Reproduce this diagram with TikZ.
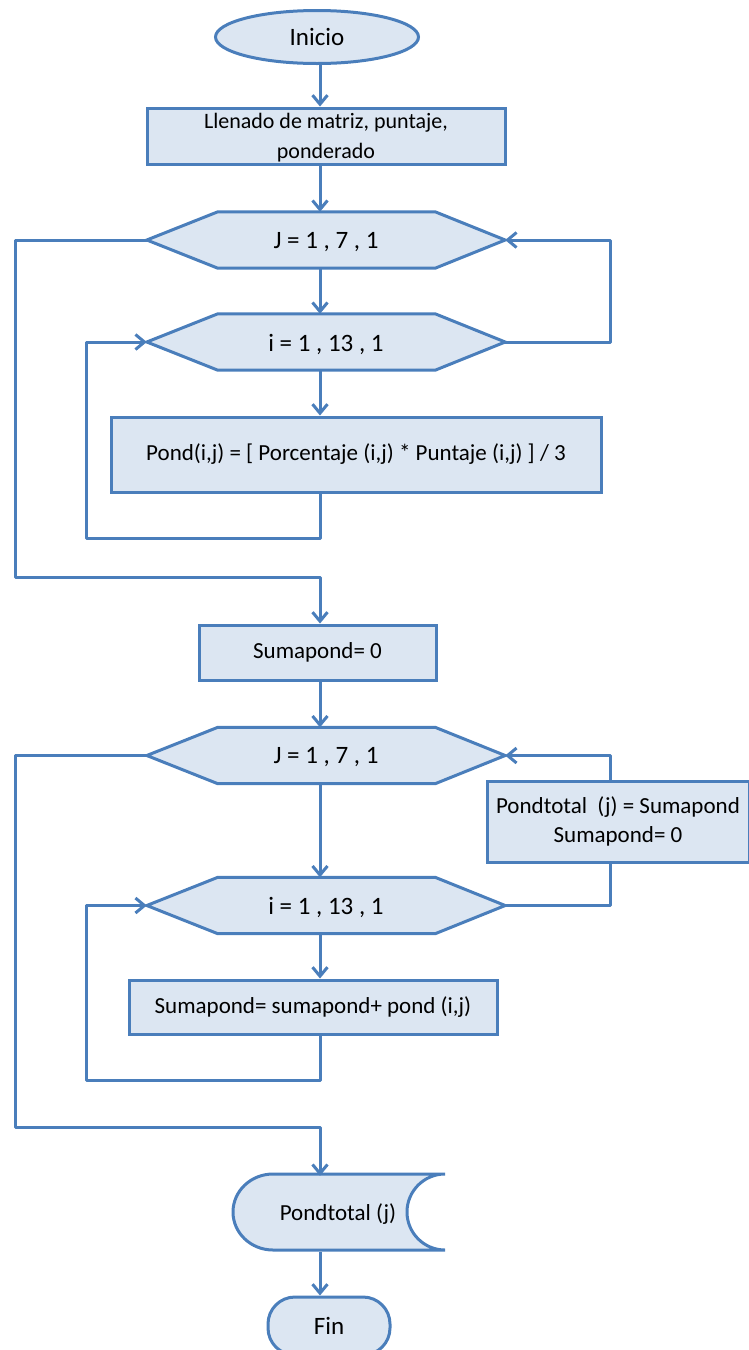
\documentclass[tikz,border=0pt]{standalone}
\usepackage{fontspec}
\setmainfont{Carlito}
\usetikzlibrary{arrows.meta,shapes.geometric}
\definecolor{edge}{HTML}{4A7EBB}
\definecolor{boxfill}{HTML}{DCE6F2}

\tikzset{
  shapeline/.style={draw=edge, line width=3pt, fill=boxfill},
  label/.style={font=\fontsize{23}{29}\selectfont, align=center, inner sep=0pt},
  procbox/.style={shapeline, rectangle, label},
  flow/.style={draw=edge, line width=3pt, line join=round,
    -{Straight Barb[length=9pt,width=15pt]}},
  wire/.style={draw=edge, line width=3pt, line join=round},
}

% loop header: invisible node for the anchors, hexagon drawn from them, text on top
\newcommand\loophead[3]{%
  \path node[minimum width=358pt, minimum height=56pt, inner sep=0pt] (#1) at #2 {};
  \draw[shapeline] (#1.west) -- ([xshift=71pt]#1.north west)
    -- ([xshift=-70pt]#1.north east) -- (#1.east)
    -- ([xshift=-70pt]#1.south east) -- ([xshift=71pt]#1.south west) -- cycle;
  \node[label, font=\fontsize{25}{30}\selectfont] at ([yshift=-2pt]#1) {#3};}

\begin{document}
\begin{tikzpicture}[x=1pt,y=-1pt]
\useasboundingbox (0,0) rectangle (749,1350);

% guide coordinates for the connector columns
\coordinate (ax) at (320,0);
\coordinate (rp) at (610,0);
\coordinate (lp1) at (86,538);
\coordinate (lp2) at (86,1080);
\coordinate (ex1) at (15,577);
\coordinate (ex2) at (15,1127);

\node[shapeline, ellipse, label, font=\fontsize{25}{30}\selectfont,
      minimum width=203pt, minimum height=53pt] (inicio) at (317,37) {Inicio};
\node[procbox, font=\fontsize{22}{30}\selectfont, text depth=0pt,
      minimum width=358pt, minimum height=56pt] (llen) at (326,136)
  {Llenado de matriz, puntaje,\\ponderado};

\loophead{h1}{(326,240)}{J = 1 , 7 , 1}
\loophead{h2}{(326,342)}{i = 1 , 13 , 1}

\node[procbox, minimum width=490pt, minimum height=75pt] (pond) at (356,454.5)
  {Pond(i,j) = [ Porcentaje (i,j) * Puntaje (i,j) ] / 3};

\node[procbox, minimum width=237pt, minimum height=55pt] (suma0) at (317.5,652.5)
  {Sumapond= 0};

\loophead{h3}{(326,755.5)}{J = 1 , 7 , 1}
\loophead{h4}{(326,905.5)}{i = 1 , 13 , 1}

\node[procbox, minimum width=262pt, minimum height=81pt] (ptot) at (618,821.5)
  {Pondtotal\ \ (j) = Sumapond\\Sumapond= 0};

\node[procbox, minimum width=368pt, minimum height=54pt] (sacc) at (313,1007)
  {Sumapond= sumapond+ pond (i,j)};

% stored-data output shape
\draw[shapeline] (445,1174) -- (273,1174)
  arc[start angle=270, end angle=90, x radius=40, y radius=38]
  -- (445,1250)
  arc[start angle=90, end angle=270, radius=38] -- cycle;
\node[label, minimum width=212pt, minimum height=76pt] (outp) at (338,1214)
  {Pondtotal (j)};

\node[procbox, rounded corners=27pt, font=\fontsize{25}{30}\selectfont,
      minimum width=122pt, minimum height=58pt] (fin) at (329,1326) {Fin};

% straight flow
\draw[flow] (inicio.south -| ax) -- (llen.north -| ax);
\draw[flow] (llen.south -| ax) -- (h1.north -| ax);
\draw[flow] (h1.south -| ax) -- (h2.north -| ax);
\draw[flow] (h2.south -| ax) -- (pond.north -| ax);
\draw[flow] (suma0.south -| ax) -- (h3.north -| ax);
\draw[flow] (h3.south -| ax) -- (h4.north -| ax);
\draw[flow] (h4.south -| ax) -- (sacc.north -| ax);
\draw[flow] (outp.south -| ax) -- (fin.north -| ax);

% first nested loop
\draw[flow] (pond.south -| ax) -- (ax |- lp1) -- (lp1) -- (lp1 |- h2.west) -- (h2.west);
\draw[flow] (h2.east) -- (h2.east -| rp) -- (h1.east -| rp) -- (h1.east);
\draw[flow] (h1.west) -- (h1.west -| ex1) -- (ex1) -- (ex1 -| ax) -- (suma0.north -| ax);

% second nested loop
\draw[flow] (sacc.south -| ax) -- (ax |- lp2) -- (lp2) -- (lp2 |- h4.west) -- (h4.west);
\draw[wire] (h4.east) -- (h4.east -| rp) -- (ptot.south -| rp);
\draw[flow] (ptot.north -| rp) -- (h3.east -| rp) -- (h3.east);
\draw[flow] (h3.west) -- (h3.west -| ex2) -- (ex2) -- (ex2 -| ax) -- (outp.north -| ax);
\end{tikzpicture}
\end{document}
